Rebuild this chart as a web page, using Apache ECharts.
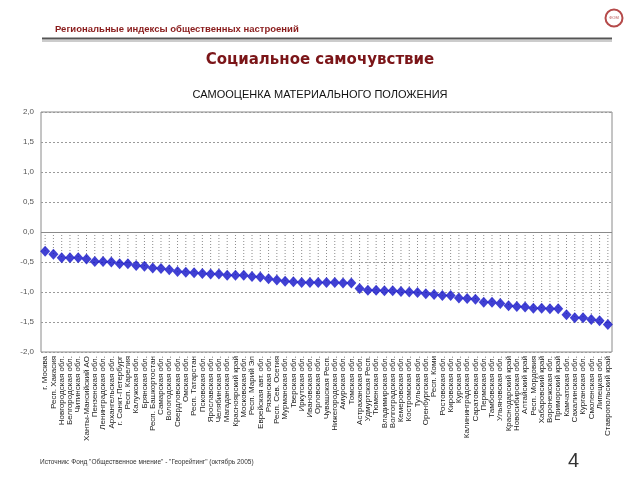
<!DOCTYPE html>
<html><head><meta charset="utf-8">
<script src="https://cdn.jsdelivr.net/npm/echarts@6/dist/echarts.min.js"></script>
<style>html,body{margin:0;padding:0;background:#fff}#c{width:640px;height:480px}</style>
</head><body><div id="c"></div>
<script>
const regions = [
 "г. Москва","Респ. Хакасия","Новгородская обл.","Белгородская обл.","Читинская обл.",
 "Ханты-Мансийский АО","Пензенская обл.","Ленинградская обл.","Архангельская обл.","г. Санкт-Петербург",
 "Респ. Карелия","Калужская обл.","Брянская обл.","Респ. Башкортостан","Самарская обл.",
 "Вологодская обл.","Свердловская обл.","Омская обл.","Респ. Татарстан","Псковская обл.",
 "Ярославская обл.","Челябинская обл.","Магаданская обл.","Красноярский край","Московская обл.",
 "Респ. Марий Эл","Еврейская авт. обл.","Рязанская обл.","Респ. Сев. Осетия","Мурманская обл.",
 "Тверская обл.","Иркутская обл.","Ивановская обл.","Орловская обл.","Чувашская Респ.",
 "Нижегородская обл.","Амурская обл.","Томская обл.","Астраханская обл.","Удмуртская Респ.",
 "Тюменская обл.","Владимирская обл.","Волгоградская обл.","Кемеровская обл.","Костромская обл.",
 "Тульская обл.","Оренбургская обл.","Респ. Коми","Ростовская обл.","Кировская обл.",
 "Курская обл.","Калининградская обл.","Саратовская обл.","Пермская обл.","Тамбовская обл.",
 "Ульяновская обл.","Краснодарский край","Новосибирская обл.","Алтайский край","Респ. Мордовия",
 "Хабаровский край","Воронежская обл.","Приморский край","Камчатская обл.","Сахалинская обл.",
 "Курганская обл.","Смоленская обл.","Липецкая обл.","Ставропольский край"
];
const selfRating = [
 -0.32,-0.37,-0.43,-0.43,-0.43,-0.45,-0.49,-0.49,-0.50,-0.53,
 -0.53,-0.56,-0.57,-0.60,-0.61,-0.63,-0.66,-0.67,-0.68,-0.69,
 -0.70,-0.70,-0.72,-0.72,-0.72,-0.74,-0.75,-0.78,-0.80,-0.82,
 -0.83,-0.84,-0.84,-0.84,-0.84,-0.84,-0.85,-0.85,-0.94,-0.97,
 -0.97,-0.98,-0.98,-0.99,-1.00,-1.01,-1.03,-1.04,-1.06,-1.06,
 -1.10,-1.11,-1.12,-1.17,-1.17,-1.19,-1.23,-1.24,-1.25,-1.27,
 -1.27,-1.28,-1.28,-1.38,-1.43,-1.43,-1.46,-1.48,-1.54
];
const yMin = -2, yMax = 2, yStep = 0.5;
const headerText = "Региональные индексы общественных настроений";
const pageTitle = "Социальное самочувствие";
const chartTitle = "САМООЦЕНКА МАТЕРИАЛЬНОГО ПОЛОЖЕНИЯ";
const sourceText = "Источник: Фонд \"Общественное мнение\" - \"Георейтинг\" (октябрь 2005)";
const pageNum = "4";

const chart = echarts.init(document.getElementById('c'), null, {renderer:'canvas'});
chart.setOption({
  animation:false,
  backgroundColor:'#fff',
  title:{text:chartTitle, left:'center', top:84,
    textStyle:{fontFamily:'Liberation Sans', fontSize:11, fontWeight:'normal', color:'#111'}},
  grid:{left:41, right:28, top:112, bottom:128, show:true, borderColor:'#8a8a8a', borderWidth:1, backgroundColor:'#fff'},
  xAxis:{type:'category', data:regions, boundaryGap:true,
    axisLine:{show:false}, axisTick:{show:false}, splitLine:{show:false},
    axisLabel:{interval:0, rotate:90, margin:4, fontFamily:'Liberation Sans', fontSize:8, color:'#1a1a1a'}},
  yAxis:{type:'value', min:yMin, max:yMax, interval:yStep,
    axisLine:{show:false}, axisTick:{show:false},
    splitLine:{show:true, lineStyle:{color:'#9a9a9a', type:[2,2], width:1}},
    axisLabel:{margin:7, fontFamily:'Liberation Sans', fontSize:8, color:'#555',
      formatter:v=>v.toFixed(1).replace('.',',')}},
  series:[
    {type:'custom', z:2, silent:true,
     data:selfRating.map((v,i)=>[i,v]),
     renderItem:(params, api)=>{
       const a = api.coord([api.value(0), 0]);
       const b = api.coord([api.value(0), api.value(1)]);
       return {type:'line', shape:{x1:a[0], y1:a[1], x2:b[0], y2:b[1]},
         style:{stroke:'#8c8c8c', lineWidth:1, lineDash:[1,2]}};
     },
     markLine:{silent:true, symbol:'none', label:{show:false},
       lineStyle:{color:'#8a8a8a', type:'solid', width:1},
       data:[{yAxis:0}]}
    },
    {type:'scatter', z:3, data:selfRating, symbol:'diamond', symbolSize:[10,11],
     itemStyle:{color:'#1010c8'}}
  ],
  graphic:[
    {type:'text', left:55, top:24, style:{text:headerText, fill:'#8a1c1c',
      font:'bold 9.5px "Liberation Sans"'}},
    {type:'rect', shape:{x:42, y:37.5, width:570, height:2}, style:{fill:'#555'}},
    {type:'rect', shape:{x:42, y:40.5, width:570, height:1}, style:{fill:'#999'}},
    {type:'circle', shape:{cx:614, cy:18, r:8.5}, style:{fill:'#fff', stroke:'#b54a4a', lineWidth:2}},
    {type:'text', x:614, y:18, style:{text:'ФОМ', fill:'#b54a4a', font:'4px "Liberation Sans"', align:'center', verticalAlign:'middle'}},
    {type:'text', left:'center', top:53, style:{text:pageTitle, fill:'#7b1518',
      font:'bold 15px "DejaVu Sans"'}},
    {type:'text', left:40, top:459, style:{text:sourceText, fill:'#333',
      font:'6.5px "Liberation Sans"'}},
    {type:'text', left:568, top:451, style:{text:pageNum, fill:'#333',
      font:'20px "Liberation Sans"'}}
  ]
});
</script></body></html>
